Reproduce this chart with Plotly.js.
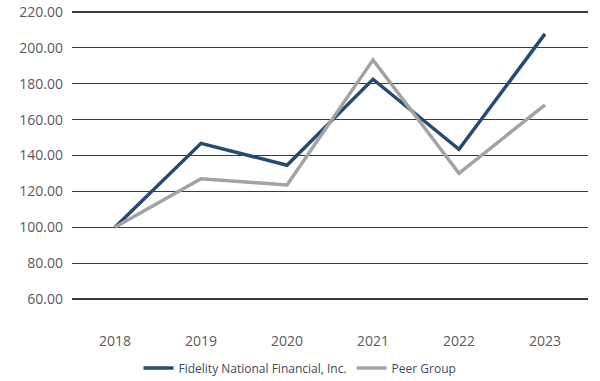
<!DOCTYPE html>
<html>
<head>
<meta charset="utf-8">
<script src="https://cdn.plot.ly/plotly-3.0.1.min.js"></script>
<style>html,body{margin:0;padding:0;background:#fff;}#chart{width:600px;height:381px;}</style>
</head>
<body>
<div id="chart"></div>
<script>
const years = ["2018", "2019", "2020", "2021", "2022", "2023"];
const fnfValues = [100.0, 146.8, 134.6, 182.5, 143.5, 207.8];
const peerValues = [100.0, 127.1, 123.6, 193.3, 130.1, 168.2];
const seriesNames = ["Fidelity National Financial, Inc.", "Peer Group"];
const yTicks = [60, 80, 100, 120, 140, 160, 180, 200, 220];

const traces = [
  {x: years, y: fnfValues, name: seriesNames[0], type: "scatter", mode: "lines",
   line: {color: "#264b73", width: 3.5}},
  {x: years, y: peerValues, name: seriesNames[1], type: "scatter", mode: "lines",
   line: {color: "#a3a3a3", width: 3.5}}
];

const layout = {
  width: 600, height: 381,
  margin: {l: 72, r: 12, t: 10, b: 76, autoexpand: false},
  paper_bgcolor: "#fff", plot_bgcolor: "#fff",
  font: {family: "Open Sans, sans-serif", color: "#5a5a5a"},
  showlegend: true,
  legend: {orientation: "h", xref: "container", x: 0.5, xanchor: "center",
           yref: "container", y: 13 / 381, yanchor: "middle",
           font: {size: 12, color: "#3f4a5a"}, itemwidth: 30, traceorder: "normal"},
  xaxis: {type: "category", range: [-0.5, 5.5], showgrid: false, zeroline: false,
          showline: false, ticks: "", tickfont: {size: 14, color: "#5a5a5a"}, ticklabelstandoff: 26},
  yaxis: {range: [56.7, 221.1], tickvals: yTicks, ticktext: yTicks.map(v => v.toFixed(2)),
          showgrid: true, gridcolor: "#3a3a3a", gridwidth: 1.2, zeroline: false, showline: false,
          ticks: "", tickfont: {size: 14, color: "#5a5a5a"}, ticklabelstandoff: 8}
};

Plotly.newPlot("chart", traces, layout, {displayModeBar: false, staticPlot: true});
</script>
</body>
</html>
